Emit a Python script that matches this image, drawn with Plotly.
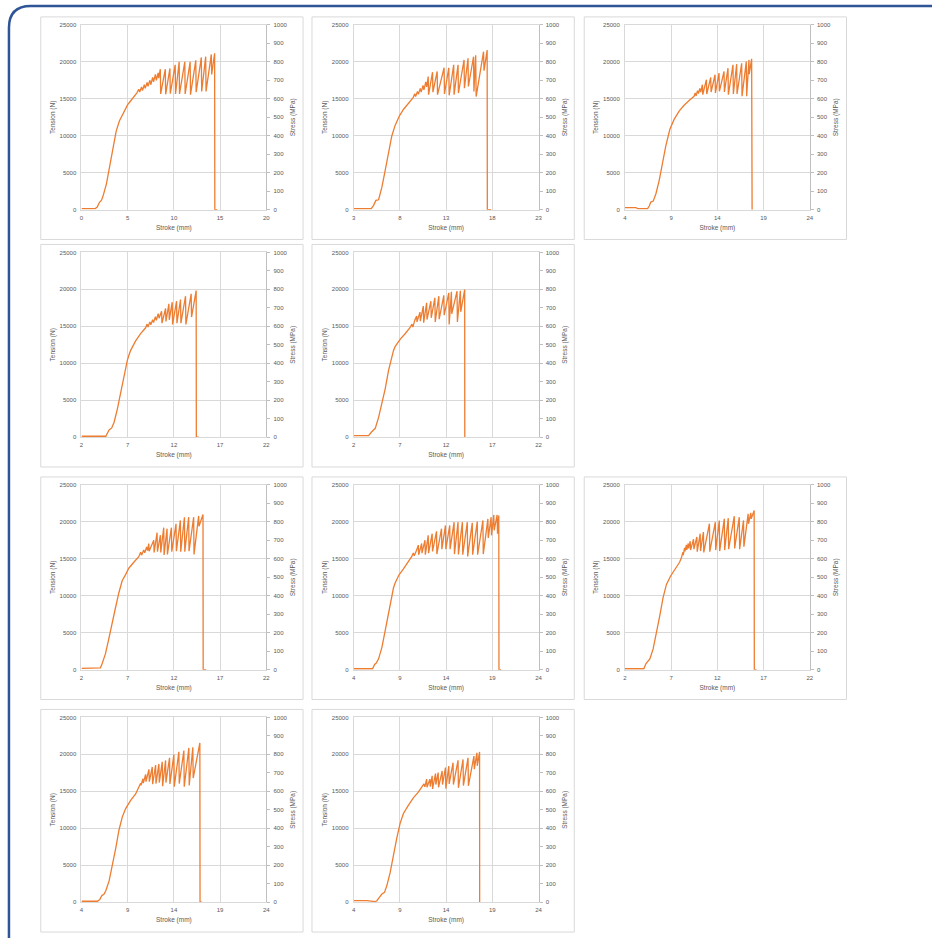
import plotly.graph_objects as go

W, H = 932, 938

# ---------------- data ----------------
x_min = [0, 3, 4, 2, 2, 2, 4, 2, 4, 4]

stroke_1 = [0, 1.5, 1.7, 1.95, 2.15, 2.3, 2.7, 3.05, 3.4, 3.75, 4.1, 4.6, 5.0, 5.25, 5.5, 5.75, 6.0,
            6.2, 6.3, 6.5, 6.6, 6.8, 6.9, 7.1, 7.2, 7.4, 7.5, 7.7, 7.8, 8.0, 8.1, 8.3, 8.35,
            8.53, 8.57, 9.07, 9.11, 9.57, 9.61, 10.14, 10.18, 10.57, 10.61, 11.18, 11.22,
            11.76, 11.8, 12.37, 12.41, 12.97, 13.01, 13.44, 13.48, 14.05, 14.09, 14.41, 14.43, 14.7]
tension_1 = [150, 150, 350, 1000, 1250, 1700, 3500, 5700, 8200, 10600, 12000, 13300, 14200, 14600, 15000, 15400, 15800,
             16300, 15900, 16600, 16100, 16900, 16400, 17200, 16700, 17500, 16900, 17900, 17300, 18300, 17500, 18500, 17800,
             19000, 15650, 19000, 15600, 19100, 15700, 19600, 15650, 20000, 15650, 20000, 15650,
             20000, 15550, 20200, 15900, 20600, 16000, 20700, 16000, 21000, 18300, 21150, 0, 0]

stroke_2 = [3, 4.9, 5.15, 5.4, 5.69, 6.05, 6.4, 6.76, 7.12, 7.48, 7.7, 7.95, 8.38, 8.91, 9.45,
            9.6, 9.7, 9.9, 10.0, 10.2, 10.3, 10.5, 10.6, 10.8, 10.9,
            11.06, 11.1, 11.53, 11.57, 12.03, 12.07, 12.78, 12.82, 13.29, 13.33, 13.82, 13.86,
            14.29, 14.33, 14.94, 14.98, 15.37, 15.41, 15.97, 16.01, 16.2, 16.25, 17.05, 17.1,
            17.44, 17.46, 17.87]
tension_2 = [150, 150, 580, 1250, 1340, 3040, 5280, 7740, 9970, 11400, 12100, 12700, 13550, 14450, 15200,
             15700, 15300, 16000, 15600, 16400, 15900, 16800, 16200, 17300, 16600,
             18000, 15560, 18600, 15900, 18700, 15560, 19200, 15650, 19200, 15470, 19600, 15560,
             19600, 15780, 20250, 16440, 20480, 16660, 20700, 16000, 20900, 15300, 21370, 18800,
             21600, 0, 0]

stroke_3 = [4, 5.19, 5.4, 6.45, 6.63, 6.8, 7.06, 7.35, 7.7, 8.06, 8.42, 8.86, 9.1, 9.32, 9.86, 10.4,
            10.94, 11.48, 11.6, 11.7, 11.85, 11.95, 12.1, 12.2,
            12.38, 12.42, 12.81, 12.85, 13.28, 13.32, 13.75, 13.79, 14.18, 14.22, 14.72, 14.76,
            15.15, 15.19, 15.69, 15.73, 16.09, 16.13, 16.63, 16.67, 17.13, 17.17, 17.42, 17.45,
            17.71, 17.72, 17.76]
tension_3 = [270, 270, 130, 130, 500, 1030, 1160, 2150, 3940, 6400, 8630, 10870, 11650, 12210, 13330, 14130,
             14760, 15340, 15800, 15400, 16100, 15700, 16400, 15900,
             16900, 15560, 17580, 15650, 17890, 15920, 18250, 15800, 18470, 16010, 18690, 15920,
             19140, 15560, 19590, 15650, 19680, 15650, 19810, 15340, 20030, 15340, 20260, 18340,
             20400, 0, 0]

stroke_4 = [2, 4.63, 4.8, 4.99, 5.27, 5.53, 5.88, 6.24, 6.6, 6.96, 7.15, 7.32, 7.86, 8.4, 8.94,
            9.1, 9.2, 9.4, 9.5, 9.7, 9.8, 10.0, 10.1, 10.3, 10.4,
            10.67, 10.71, 11.1, 11.14, 11.46, 11.5, 11.82, 11.86, 12.29, 12.33, 12.72, 12.76,
            13.26, 13.3, 13.87, 13.91, 14.41, 14.43, 14.7]
tension_4 = [130, 130, 540, 990, 1260, 2020, 3810, 6060, 8300, 10400, 11150, 11750, 13020, 14010, 14800,
             15300, 14900, 15600, 15200, 15900, 15500, 16300, 15800, 16700, 16100,
             17050, 15430, 17410, 15650, 18040, 15880, 18270, 15260, 18400, 15430, 18620, 15430,
             19080, 15260, 19390, 16250, 19840, 0, 0]

stroke_5 = [2, 3.61, 3.9, 4.15, 4.33, 4.69, 5.05, 5.4, 5.76, 6.12, 6.3, 6.48, 7.02, 7.56, 8.09,
            8.3, 8.4, 8.6,
            8.81, 8.85, 9.17, 9.21, 9.53, 9.57, 9.89, 9.93, 10.35, 10.39, 10.78, 10.82,
            11.21, 11.25, 11.75, 11.79, 12.29, 12.33, 12.57, 12.61, 13.18, 13.22, 13.54, 13.58,
            14.01, 14.02, 14.08]
tension_5 = [220, 220, 670, 990, 1200, 2690, 4490, 6510, 8980, 10900, 11700, 12250, 13240, 14000, 14810,
             15300, 14900, 15800,
             16380, 15600, 16920, 15700, 17730, 15480, 18180, 15920, 18400, 16150, 18850, 15600,
             19080, 15960, 19200, 16500, 19530, 15260, 19660, 16700, 19750, 15600, 19800, 16960,
             19970, 0, 0]

stroke_6 = [2, 3.87, 4.05, 4.23, 4.59, 4.95, 5.31, 5.68, 6.04, 6.25, 6.4, 6.76, 7.12, 7.66, 8.2,
            8.4, 8.5, 8.74, 8.85, 9.05, 9.15,
            9.28, 9.32, 9.82, 9.86, 10.18, 10.22, 10.54, 10.58, 10.9, 10.94, 11.26, 11.3,
            11.73, 11.77, 12.23, 12.27, 12.7, 12.74, 13.14, 13.18, 13.6, 13.64, 14.14, 14.18,
            14.68, 14.72, 15.15, 15.17, 15.5]
tension_6 = [180, 180, 250, 800, 2140, 4140, 6370, 8380, 10380, 11400, 12030, 12830, 13730, 14530, 15290,
             15900, 15500, 16200, 15800, 16600, 16100,
             17070, 16040, 17510, 15860, 18540, 15960, 18200, 15860, 19210, 15510, 19080, 15600,
             19210, 15960, 19740, 16040, 20190, 15960, 20630, 15960, 20630, 16040, 20630, 15600,
             20800, 19400, 21000, 0, 0]

stroke_7 = [4, 6.04, 6.26, 6.44, 6.69, 7.05, 7.4, 7.76, 8.12, 8.3, 8.48, 8.91, 9.38, 9.91, 10.27,
            10.45, 10.55, 10.81,
            10.99, 11.03, 11.35, 11.39, 11.71, 11.75, 12.06, 12.1, 12.49, 12.53, 12.96, 13.0,
            13.5, 13.54, 13.93, 13.97, 14.39, 14.43, 14.86, 14.9, 15.29, 15.33, 15.76, 15.8,
            16.29, 16.33, 16.83, 16.87, 17.37, 17.41, 17.98, 18.02, 18.52, 18.56, 18.87, 18.91,
            19.16, 19.2, 19.52, 19.56, 19.7, 19.72, 19.95]
tension_7 = [130, 130, 710, 890, 1470, 3030, 5260, 7710, 10160, 11050, 11720, 12840, 13640, 14530, 15290,
             15800, 15400, 16180,
             16850, 15550, 17070, 15770, 17520, 15550, 18180, 15770, 18400, 16000, 18720, 15640,
             19070, 16310, 19520, 16310, 19520, 16310, 19960, 15640, 19960, 15600, 19960, 15550,
             19960, 15330, 19870, 15550, 20050, 15550, 20190, 15640, 20400, 17820, 20630, 18180,
             20940, 18850, 20940, 18400, 20850, 0, 0]

stroke_8 = [2, 4.04, 4.26, 4.51, 4.69, 5.05, 5.4, 5.76, 6.12, 6.3, 6.48, 6.91, 7.38, 7.91, 8.1,
            8.27, 8.31, 8.45, 8.49, 8.65, 8.69, 8.85, 8.89, 9.06, 9.1, 9.42, 9.46, 9.78, 9.82,
            10.14, 10.18, 10.49, 10.53,
            11.14, 11.18, 11.78, 11.82, 12.21, 12.25, 12.75, 12.79, 13.18, 13.22, 13.83, 13.87,
            14.37, 14.41, 14.83, 14.87, 15.33, 15.37, 15.62, 15.66, 15.98, 16.0, 16.23]
tension_8 = [130, 130, 800, 1110, 1470, 2810, 4900, 7260, 9720, 10800, 11500, 12610, 13500, 14530, 15100,
             15900, 15500, 16500, 16000, 16900, 16200, 17070, 16400, 17380, 16180, 17650, 16300, 17960, 15960,
             18400, 16050, 18630, 15870,
             19750, 15960, 19960, 16180, 20190, 16050, 20410, 16180, 20500, 16300, 20770, 16400,
             20630, 16300, 20190, 16630, 21080, 19740, 21220, 20400, 21530, 0, 0]

stroke_9 = [4, 5.73, 5.98, 6.19, 6.45, 6.63, 6.99, 7.35, 7.71, 8.06, 8.25, 8.42, 8.78, 9.32, 9.86, 10.22,
            10.4, 10.44, 10.65, 10.69, 10.94, 10.98, 11.3, 11.34, 11.66, 11.7, 12.02, 12.06,
            12.38, 12.42, 12.74, 12.78, 13.1, 13.14, 13.53, 13.57, 14.0, 14.04, 14.54, 14.58,
            15.08, 15.12, 15.62, 15.66, 16.05, 16.09, 16.81, 16.83, 17.06]
tension_9 = [130, 130, 350, 890, 1110, 1550, 2890, 4880, 7330, 9770, 10800, 11550, 12660, 13770, 14650, 15540,
             16100, 15800, 16700, 16100, 17300, 16300, 17980, 16300, 18290, 15960, 18560, 16050,
             18700, 16180, 19000, 15700, 19180, 16180, 19540, 15990, 19980, 15630, 20340, 16050,
             20520, 15630, 20870, 15780, 20950, 16790, 21540, 0, 0]

stroke_10 = [4, 5.43, 6.33, 6.51, 6.69, 7.05, 7.33, 7.58, 7.94, 8.3, 8.66, 9.02, 9.2, 9.38, 9.91, 10.45,
             10.99, 11.35, 11.6, 11.7,
             11.89, 11.93, 12.24, 12.28, 12.49, 12.53, 12.85, 12.89, 13.14, 13.18, 13.57, 13.61,
             13.93, 13.97, 14.29, 14.33, 14.75, 14.79, 15.29, 15.33, 15.83, 15.87, 16.37, 16.41,
             17.01, 17.05, 17.33, 17.37, 17.62, 17.63, 17.66]
tension_10 = [220, 220, 90, 200, 530, 1110, 1330, 2220, 4000, 6440, 8660, 10660, 11400, 12000, 13100, 14120,
              14880, 15540, 16000, 15600,
              16650, 15540, 16650, 15650, 17100, 15330, 17400, 15920, 17540, 15550, 17760, 15920,
              18210, 15370, 18430, 16000, 18870, 15920, 19190, 15470, 19320, 15780, 19540, 15740,
              19760, 18000, 20200, 18450, 20330, 0, 0]

strokes = [stroke_1, stroke_2, stroke_3, stroke_4, stroke_5, stroke_6, stroke_7, stroke_8, stroke_9, stroke_10]
tensions = [tension_1, tension_2, tension_3, tension_4, tension_5, tension_6, tension_7, tension_8, tension_9, tension_10]

tension_max = 25000
stress_max = 1000
mpa_per_newton = stress_max / tension_max

x_title = "Stroke (mm)"
y_title = "Tension (N)"
y2_title = "Stress (MPa)"

# ---------------- layout geometry (pixels) ----------------
cells = [(0, 0), (0, 1), (0, 2), (1, 0), (1, 1), (2, 0), (2, 1), (2, 2), (3, 0), (3, 1)]
plot_left = [80, 354, 627]
plot_top = [22, 251, 485, 719]
plot_w, plot_h = 186, 186
box_left = [39, 312, 586]
box_top = [14, 243, 477, 711]
box_w, box_h = 264, 224

ORANGE = "#ED7D31"
GRID = "#D9D9D9"
TXT = "#595959"
FONT = "Liberation Sans"

fig = go.Figure()
layout = dict(width=W, height=H, margin=dict(l=0, r=0, t=0, b=0),
              paper_bgcolor="white", plot_bgcolor="white", showlegend=False,
              font=dict(family=FONT, size=6, color=TXT))
shapes = []


def px_x(v):
    return v / W


def px_y(v):
    return 1 - v / H


for i, (r, c) in enumerate(cells):
    n = i + 1
    xs = "" if n == 1 else str(n)
    yl = 2 * i + 1
    yr = 2 * i + 2
    yls = "" if yl == 1 else str(yl)
    yrs = str(yr)
    L = plot_left[c]
    T = plot_top[r]
    xd = [px_x(L), px_x(L + plot_w)]
    yd = [px_y(T + plot_h), px_y(T)]

    fig.add_trace(go.Scatter(x=strokes[i], y=tensions[i], mode="lines",
                             line=dict(color=ORANGE, width=1.3),
                             xaxis="x" + xs, yaxis="y" + yls, hoverinfo="skip"))
    stress = [t * mpa_per_newton for t in tensions[i]]
    fig.add_trace(go.Scatter(x=strokes[i], y=stress, mode="lines",
                             line=dict(color="rgba(0,0,0,0)", width=0),
                             xaxis="x" + xs, yaxis="y" + yrs, hoverinfo="skip"))

    layout["xaxis" + xs] = dict(
        domain=xd, anchor="y" + yls, range=[x_min[i], x_min[i] + 20],
        tick0=x_min[i], dtick=5, showgrid=True, gridcolor=GRID, gridwidth=1,
        showline=True, linecolor=GRID, linewidth=1, mirror=True, zeroline=False,
        ticks="", tickfont=dict(size=6, color=TXT), ticklabelstandoff=2,
        title=dict(text=x_title, font=dict(size=6.5, color=TXT), standoff=5))
    layout["yaxis" + yls] = dict(
        domain=yd, anchor="x" + xs, range=[0, tension_max], dtick=5000, tickformat="d",
        showgrid=True, gridcolor=GRID, gridwidth=1, zeroline=False,
        showline=True, linecolor=GRID, linewidth=1, mirror=True,
        ticks="", tickfont=dict(size=6, color=TXT), ticklabelstandoff=3,
        title=dict(text=y_title, font=dict(size=6.5, color=TXT), standoff=3))
    layout["yaxis" + yrs] = dict(
        domain=yd, anchor="x" + xs, overlaying="y" + yls, side="right",
        range=[0, stress_max], dtick=100, tickformat="d", showgrid=False, zeroline=False,
        showline=True, linecolor="#BFBFBF", linewidth=1,
        ticks="outside", ticklen=3, tickcolor="#BFBFBF", tickwidth=1,
        tickfont=dict(size=6, color=TXT), ticklabelstandoff=2,
        title=dict(text=y2_title, font=dict(size=6.5, color=TXT), standoff=3))

    bl = box_left[c]
    bt = box_top[r]
    shapes.append(dict(type="rect", xref="paper", yref="paper",
                       x0=px_x(bl), x1=px_x(bl + box_w), y0=px_y(bt + box_h), y1=px_y(bt),
                       line=dict(color=GRID, width=1), fillcolor="rgba(0,0,0,0)", layer="below"))

# outer rounded blue frame (top-left corner visible)
fx, fy, rad = 7, 3, 22
path = (f"M {px_x(fx)} {px_y(H + 10)} L {px_x(fx)} {px_y(fy + rad)} "
        f"Q {px_x(fx)} {px_y(fy)} {px_x(fx + rad)} {px_y(fy)} L {px_x(W + 10)} {px_y(fy)}")
shapes.append(dict(type="path", xref="paper", yref="paper", path=path,
                   line=dict(color="#2F5597", width=2.5)))

layout["shapes"] = shapes
fig.update_layout(**layout)

fig.write_html("out.html", config={"displayModeBar": False},
               post_script="document.body.style.margin='0';document.body.style.overflow='hidden';")
